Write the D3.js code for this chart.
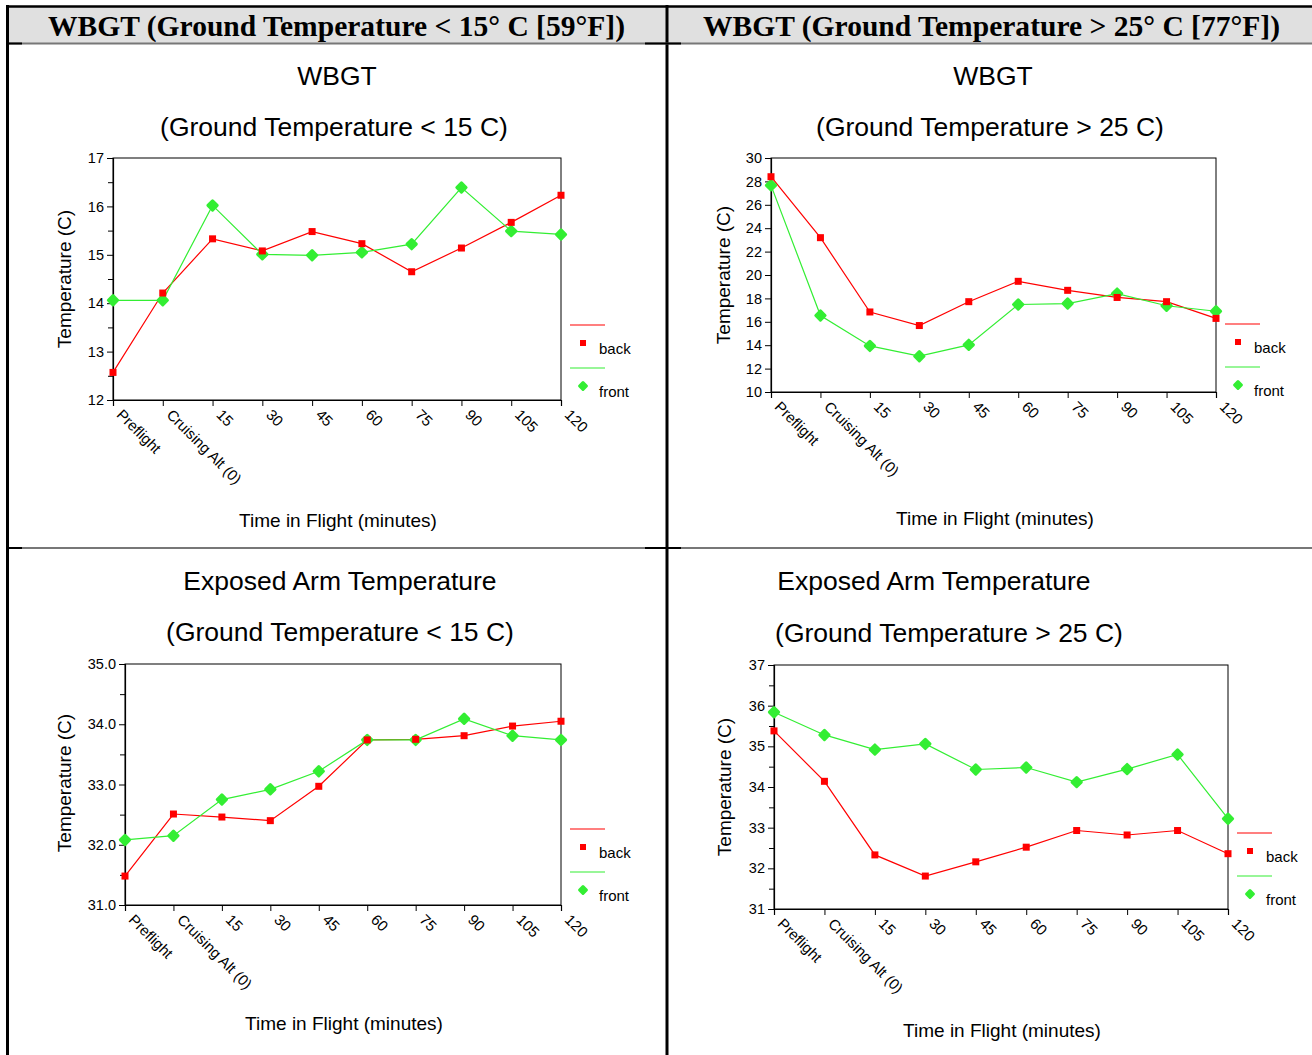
<!DOCTYPE html>
<html>
<head>
<meta charset="utf-8">
<script src="https://cdn.jsdelivr.net/npm/d3@7"></script>
<style>
  html, body { margin: 0; padding: 0; background: #fff; }
  svg { display: block; }
</style>
</head>
<body>
<svg id="page" width="1312" height="1055"></svg>
<script>
// Flight timeline categories shared by every panel
const categories = ["Preflight", "Cruising Alt (0)", "15", "30", "45", "60", "75", "90", "105", "120"];

// Column headings of the table
const headings = [
  "WBGT (Ground Temperature < 15\u00B0 C [59\u00B0F])",
  "WBGT (Ground Temperature > 25\u00B0 C [77\u00B0F])"
];

// WBGT, cold ground (< 15 C)
const wbgtColdBack  = [12.57, 14.21, 15.33, 15.08, 15.48, 15.23, 14.65, 15.14, 15.67, 16.23];
const wbgtColdFront = [14.06, 14.06, 16.02, 15.01, 14.99, 15.05, 15.22, 16.39, 15.49, 15.42];

// WBGT, hot ground (> 25 C)
const wbgtHotBack  = [28.40, 23.19, 16.84, 15.68, 17.72, 19.46, 18.69, 18.08, 17.72, 16.29];
const wbgtHotFront = [27.66, 16.54, 13.94, 13.06, 14.03, 17.48, 17.56, 18.41, 17.37, 16.90];

// Exposed arm temperature, cold ground (< 15 C)
const armColdBack  = [31.48, 32.51, 32.46, 32.40, 32.97, 33.74, 33.75, 33.81, 33.97, 34.05];
const armColdFront = [32.08, 32.15, 32.75, 32.92, 33.22, 33.74, 33.74, 34.09, 33.81, 33.74];

// Exposed arm temperature, hot ground (> 25 C)
const armHotBack  = [35.38, 34.14, 32.33, 31.81, 32.16, 32.52, 32.93, 32.82, 32.93, 32.36];
const armHotFront = [35.84, 35.28, 34.92, 35.06, 34.43, 34.48, 34.12, 34.44, 34.80, 33.22];

// Y-axis ticks per panel
const wbgtColdTicks = [12, 13, 14, 15, 16, 17];
const wbgtHotTicks  = [10, 12, 14, 16, 18, 20, 22, 24, 26, 28, 30];
const armColdTicks  = [31, 32, 33, 34, 35];
const armHotTicks   = [31, 32, 33, 34, 35, 36, 37];

const SANS = "'Liberation Sans', Arial, Helvetica, sans-serif";
const SERIF = "'Liberation Serif', 'Times New Roman', serif";
const RED = "#ff0000";
const GREEN = "#33ee33";

const svg = d3.select("#page");

// ---- table frame ----
svg.append("rect").attr("x", 8).attr("y", 7).attr("width", 1304).attr("height", 36).attr("fill", "#e0e0e0");
const frame = svg.append("g").attr("stroke-linecap", "butt");
frame.append("line").attr("x1", 7).attr("x2", 1312).attr("y1", 6.5).attr("y2", 6.5).attr("stroke", "#000").attr("stroke-width", 2.5);
frame.append("line").attr("x1", 7.5).attr("x2", 7.5).attr("y1", 5).attr("y2", 1055).attr("stroke", "#000").attr("stroke-width", 3);
frame.append("line").attr("x1", 667).attr("x2", 667).attr("y1", 5).attr("y2", 1055).attr("stroke", "#000").attr("stroke-width", 3);
[43.5, 548].forEach(y => {
  frame.append("line").attr("x1", 9).attr("x2", 1312).attr("y1", y).attr("y2", y).attr("stroke", "#777").attr("stroke-width", 2);
  frame.append("line").attr("x1", 9).attr("x2", 22).attr("y1", y).attr("y2", y).attr("stroke", "#000").attr("stroke-width", 2);
  frame.append("line").attr("x1", 645).attr("x2", 681).attr("y1", y).attr("y2", y).attr("stroke", "#000").attr("stroke-width", 2);
});

// column headings
headings.forEach((h, i) => {
  svg.append("text")
    .attr("x", i === 0 ? 48 : 703).attr("y", 36)
    .attr("textLength", 577).attr("lengthAdjust", "spacingAndGlyphs")
    .attr("font-family", SERIF).attr("font-weight", "bold").attr("font-size", 30)
    .attr("fill", "#000")
    .text(h);
});

// ---- one line chart panel ----
function drawPanel(cfg) {
  const g = svg.append("g");
  const x = d3.scalePoint().domain(categories).range([cfg.left, cfg.right]).padding(0);
  const y = d3.scaleLinear().domain(cfg.domain).range([cfg.bottom, cfg.top]);

  // titles
  cfg.titles.forEach(t => {
    g.append("text").attr("x", t.x).attr("y", t.y)
      .attr("text-anchor", "middle").attr("font-family", SANS).attr("font-size", 26.5)
      .attr("fill", "#000").text(t.text);
  });

  // plot frame
  g.append("rect").attr("x", cfg.left).attr("y", cfg.top)
    .attr("width", cfg.right - cfg.left).attr("height", cfg.bottom - cfg.top)
    .attr("fill", "none").attr("stroke", "#000").attr("stroke-width", 1);

  // y axis with major labelled ticks
  const yAxis = d3.axisLeft(y).tickValues(cfg.ticks).tickSize(6).tickPadding(3)
    .tickFormat(d3.format(cfg.fmt));
  const ya = g.append("g").attr("transform", `translate(${cfg.left},0)`).call(yAxis);
  ya.select(".domain").attr("stroke", "#000").attr("stroke-width", 1.2);
  ya.selectAll(".tick line").attr("stroke", "#000");
  ya.selectAll(".tick text").attr("font-family", SANS).attr("font-size", 14.5).attr("fill", "#000");

  // minor ticks
  if (cfg.minor) {
    const mAxis = d3.axisLeft(y).tickValues(cfg.minor).tickSize(5).tickFormat("");
    const ma = g.append("g").attr("transform", `translate(${cfg.left},0)`).call(mAxis);
    ma.select(".domain").remove();
    ma.selectAll(".tick line").attr("stroke", "#000");
  }

  // x axis with rotated category labels
  const xAxis = d3.axisBottom(x).tickSize(6).tickFormat("");
  const xa = g.append("g").attr("transform", `translate(0,${cfg.bottom})`).call(xAxis);
  xa.select(".domain").attr("stroke", "#000").attr("stroke-width", 1.2);
  xa.selectAll(".tick line").attr("stroke", "#000");
  xa.selectAll(".tick").append("text")
    .attr("transform", "translate(10,8) rotate(45)")
    .attr("text-anchor", "start").attr("dy", "0.72em")
    .attr("font-family", SANS).attr("font-size", 15).attr("fill", "#000")
    .text(d => d);

  // axis titles
  g.append("text")
    .attr("transform", `translate(${cfg.yTitle[0]},${cfg.yTitle[1]}) rotate(-90)`)
    .attr("text-anchor", "middle").attr("font-family", SANS).attr("font-size", 19)
    .attr("fill", "#000").text("Temperature (C)");
  g.append("text").attr("x", cfg.xTitle[0]).attr("y", cfg.xTitle[1])
    .attr("text-anchor", "middle").attr("font-family", SANS).attr("font-size", 19)
    .attr("fill", "#000").text("Time in Flight (minutes)");

  // series
  const line = d3.line().x((d, i) => x(categories[i])).y(d => y(d));
  g.append("path").datum(cfg.back).attr("d", line)
    .attr("fill", "none").attr("stroke", RED).attr("stroke-width", 1.2);
  g.append("path").datum(cfg.front).attr("d", line)
    .attr("fill", "none").attr("stroke", GREEN).attr("stroke-width", 1.2);

  const diamond = d3.symbol().type(d3.symbolDiamond2).size(55);
  g.selectAll(".front-pt").data(cfg.front).join("path")
    .attr("transform", (d, i) => `translate(${x(categories[i])},${y(d)})`)
    .attr("d", diamond).attr("fill", GREEN).attr("stroke", GREEN)
    .attr("stroke-width", 3).attr("stroke-linejoin", "round");
  g.selectAll(".back-pt").data(cfg.back).join("rect")
    .attr("x", (d, i) => x(categories[i]) - 3.5).attr("y", d => y(d) - 3.5)
    .attr("width", 7).attr("height", 7).attr("fill", RED);

  // legend
  const lg = g.append("g").attr("transform", `translate(${cfg.legend[0]},${cfg.legend[1]})`);
  lg.append("line").attr("x1", 0).attr("x2", 35).attr("y1", 0).attr("y2", 0).attr("stroke", RED).attr("stroke-width", 1.2);
  lg.append("rect").attr("x", 10).attr("y", 15).attr("width", 6).attr("height", 6).attr("fill", RED);
  lg.append("text").attr("x", 29).attr("y", 29).attr("font-family", SANS).attr("font-size", 15).attr("fill", "#000").text("back");
  lg.append("line").attr("x1", 0).attr("x2", 35).attr("y1", 43).attr("y2", 43).attr("stroke", GREEN).attr("stroke-width", 1.2);
  lg.append("path").attr("transform", "translate(13,61)").attr("d", d3.symbol().type(d3.symbolDiamond2).size(30))
    .attr("fill", GREEN).attr("stroke", GREEN).attr("stroke-width", 3).attr("stroke-linejoin", "round");
  lg.append("text").attr("x", 29).attr("y", 72).attr("font-family", SANS).attr("font-size", 15).attr("fill", "#000").text("front");
}

drawPanel({
  left: 113, right: 561, top: 158, bottom: 400,
  domain: [12, 17], ticks: wbgtColdTicks, minor: [12.5, 13.5, 14.5, 15.5, 16.5], fmt: "d",
  back: wbgtColdBack, front: wbgtColdFront,
  titles: [{ x: 337, y: 85, text: "WBGT" }, { x: 334, y: 136, text: "(Ground Temperature < 15 C)" }],
  yTitle: [71, 279], xTitle: [338, 527], legend: [570, 325]
});

drawPanel({
  left: 771, right: 1216, top: 158, bottom: 392,
  domain: [10, 30], ticks: wbgtHotTicks, minor: null, fmt: "d",
  back: wbgtHotBack, front: wbgtHotFront,
  titles: [{ x: 993, y: 85, text: "WBGT" }, { x: 990, y: 136, text: "(Ground Temperature > 25 C)" }],
  yTitle: [730, 275], xTitle: [995, 525], legend: [1225, 324]
});

drawPanel({
  left: 125, right: 561, top: 664, bottom: 905,
  domain: [31, 35], ticks: armColdTicks, minor: [31.5, 32.5, 33.5, 34.5], fmt: ".1f",
  back: armColdBack, front: armColdFront,
  titles: [{ x: 340, y: 590, text: "Exposed Arm Temperature" }, { x: 340, y: 641, text: "(Ground Temperature < 15 C)" }],
  yTitle: [71, 783], xTitle: [344, 1030], legend: [570, 829]
});

drawPanel({
  left: 774, right: 1228, top: 665, bottom: 909,
  domain: [31, 37], ticks: armHotTicks, minor: [31.5, 32.5, 33.5, 34.5, 35.5, 36.5], fmt: "d",
  back: armHotBack, front: armHotFront,
  titles: [{ x: 934, y: 590, text: "Exposed Arm Temperature" }, { x: 949, y: 642, text: "(Ground Temperature > 25 C)" }],
  yTitle: [731, 787], xTitle: [1002, 1037], legend: [1237, 833]
});
</script>
</body>
</html>
